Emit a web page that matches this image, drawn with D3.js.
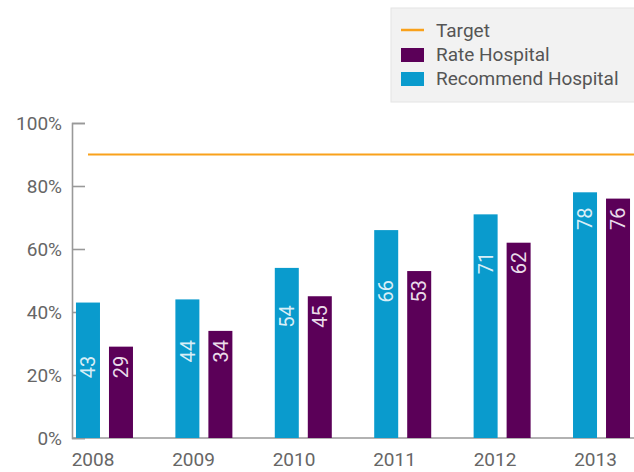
<!DOCTYPE html>
<html>
<head>
<meta charset="utf-8">
<script src="https://cdn.jsdelivr.net/npm/d3@7"></script>
<style>
  body { margin: 0; background: #fff; }
  text { font-family: Roboto, "DejaVu Sans Condensed", sans-serif; }
</style>
</head>
<body>
<svg id="chart" width="634" height="472"></svg>
<script>
const years = ["2008", "2009", "2010", "2011", "2012", "2013"];
const recommendHospital = [43, 44, 54, 66, 71, 78];
const rateHospital = [29, 34, 45, 53, 62, 76];
const target = 90;
const yTicks = [0, 20, 40, 60, 80, 100];

const width = 634, height = 472;
const plotLeft = 72, plotBottom = 438, plotTop = 123;

const colors = { recommend: "#0a9bcd", rate: "#5b0058", target: "#f9a11b" };

const svg = d3.select("#chart");

// scales
const y = d3.scaleLinear().domain([0, 100]).range([plotBottom, plotTop]);
const x = d3.scaleBand().domain(years).range([plotLeft, width])
  .paddingInner(0.4266).paddingOuter(0.04);
const xInner = d3.scaleBand().domain(["recommend", "rate"])
  .range([0, x.bandwidth()]).paddingInner(9 / 33).paddingOuter(0);
// year labels sit a bit left of the bar groups
const xLabel = d3.scalePoint().domain(years).range([92.5, 595]);

// y axis, ticks pointing inwards
const yAxis = svg.append("g")
  .attr("transform", `translate(${plotLeft},0)`)
  .call(d3.axisLeft(y).tickValues(yTicks).tickFormat(d => d + "%")
    .tickSize(-13).tickPadding(10));
yAxis.selectAll("path, line").attr("stroke", "#999").attr("stroke-width", 1.6);
yAxis.selectAll("text").attr("font-size", 19).attr("fill", "#666");

// x axis line + year labels
svg.append("line")
  .attr("x1", plotLeft).attr("x2", width)
  .attr("y1", y(0)).attr("y2", y(0))
  .attr("stroke", "#999").attr("stroke-width", 1.6);

const xAxis = svg.append("g")
  .attr("transform", `translate(0,${y(0)})`)
  .call(d3.axisBottom(xLabel).tickSize(0).tickPadding(15));
xAxis.select(".domain").remove();
xAxis.selectAll("text").attr("font-size", 19).attr("fill", "#666");

// bars
const rows = years.map((yr, i) => ({
  year: yr,
  values: [
    { key: "recommend", value: recommendHospital[i] },
    { key: "rate", value: rateHospital[i] }
  ]
}));

const groups = svg.append("g").selectAll("g")
  .data(rows)
  .join("g")
  .attr("transform", d => `translate(${x(d.year)},0)`);

groups.selectAll("rect")
  .data(d => d.values)
  .join("rect")
  .attr("x", d => xInner(d.key))
  .attr("y", d => y(d.value))
  .attr("width", xInner.bandwidth())
  .attr("height", d => y(0) - y(d.value))
  .attr("fill", d => colors[d.key]);

// value labels: both labels of a group start just under the shorter bar's top
groups.each(function(d) {
  const labelTop = y(d3.min(d.values, v => v.value)) + 9;
  d3.select(this).selectAll("text.val")
    .data(d.values)
    .join("text")
    .attr("class", "val")
    .attr("transform", v => `translate(${xInner(v.key) + xInner.bandwidth() / 2},${labelTop}) rotate(-90)`)
    .attr("text-anchor", "end")
    .attr("dy", "0.36em")
    .attr("font-size", 20)
    .attr("fill", v => v.key === "recommend" ? "#d9eef7" : "#eadcea")
    .text(v => v.value);
});

// target line
svg.append("line")
  .attr("x1", 88).attr("x2", width)
  .attr("y1", y(target)).attr("y2", y(target))
  .attr("stroke", colors.target).attr("stroke-width", 2.2);

// legend
const legend = svg.append("g");
legend.append("rect")
  .attr("x", 391).attr("y", 8).attr("width", 250).attr("height", 94)
  .attr("fill", "#f2f2f2").attr("stroke", "#e4e4e4");

legend.append("line")
  .attr("x1", 401).attr("x2", 424).attr("y1", 30).attr("y2", 30)
  .attr("stroke", colors.target).attr("stroke-width", 2.5);
legend.append("rect")
  .attr("x", 401).attr("y", 48).attr("width", 23).attr("height", 14)
  .attr("fill", colors.rate);
legend.append("rect")
  .attr("x", 401).attr("y", 72).attr("width", 23).attr("height", 14)
  .attr("fill", colors.recommend);

const legendItems = ["Target", "Rate Hospital", "Recommend Hospital"];
legend.selectAll("text")
  .data(legendItems)
  .join("text")
  .attr("x", 436)
  .attr("y", (d, i) => 37 + i * 24)
  .attr("font-size", 19)
  .attr("fill", "#555")
  .text(d => d);
</script>
</body>
</html>
